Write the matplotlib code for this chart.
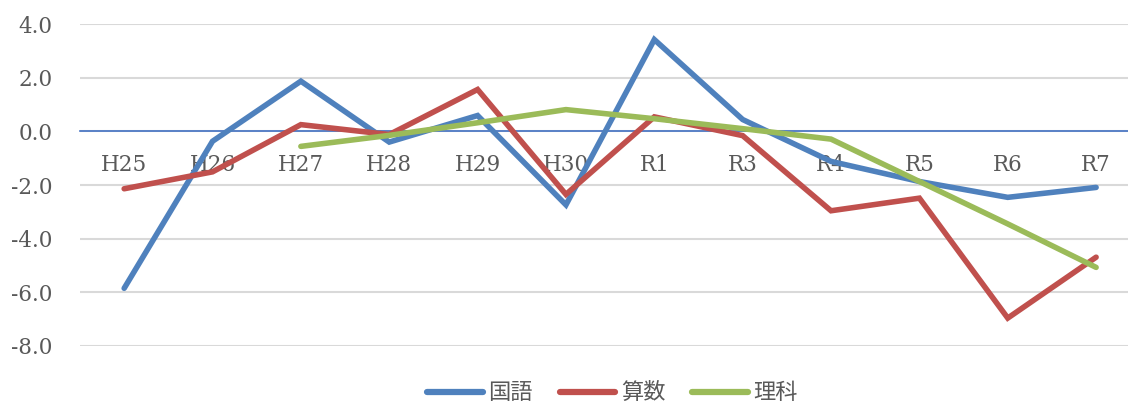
import matplotlib.pyplot as plt
import numpy as np

# Data
years = ['H25', 'H26', 'H27', 'H28', 'H29', 'H30', 'R1', 'R3', 'R4', 'R5', 'R6', 'R7']
kokugo = [-5.85, -0.37, 1.87, -0.4, 0.59, -2.74, 3.42, 0.44, -1.12, -1.87, -2.46, -2.09]
sansu = [-2.14, -1.51, 0.25, -0.12, 1.56, -2.35, 0.54, -0.16, -2.96, -2.49, -6.96, -4.69]
rika = [np.nan, np.nan, -0.56, -0.15, 0.32, 0.81, 0.47, 0.1, -0.29, -1.87, -3.45, -5.07]

series_names = ['国語', '算数', '理科']
colors = ['#4F81BD', '#C0504D', '#9BBB59']

fig = plt.figure(figsize=(11.28, 4.05), dpi=100)
# plot area runs slightly past the right edge of the figure, as in the original
ax = fig.add_axes([0.0709, 0.1457, 0.94, 0.795])

x = np.arange(len(years))
for vals, name, c in zip([kokugo, sansu, rika], series_names, colors):
    ax.plot(x, vals, color=c, linewidth=4, solid_capstyle='round',
            solid_joinstyle='miter', label=name, zorder=3)

ax.set_xlim(-0.5, len(years) - 0.5)
ax.set_ylim(-8, 4)
ax.set_yticks(np.arange(-8, 4.1, 2))
ax.set_yticklabels([f'{v:.1f}' for v in np.arange(-8, 4.1, 2)])
ax.grid(axis='y', color='#D9D9D9', linewidth=1.5, zorder=0)

for s in ['top', 'right', 'left']:
    ax.spines[s].set_visible(False)
ax.spines['bottom'].set_position(('data', 0))
ax.spines['bottom'].set_color('#4472C4')
ax.spines['bottom'].set_linewidth(1.2)
ax.spines['bottom'].set_zorder(2)

ax.set_xticks(x)
ax.set_xticklabels(years)
ax.tick_params(axis='x', length=0, pad=16, labelsize=15.5, labelcolor='#595959')
ax.tick_params(axis='y', length=0, pad=20, labelsize=15.5, labelcolor='#595959')
for lbl in ax.get_xticklabels() + ax.get_yticklabels():
    lbl.set_family('DejaVu Serif')

leg = fig.legend(loc='center', bbox_to_anchor=(0.543, 0.03), ncol=3, frameon=False,
                 handlelength=2.5, handletextpad=0.25, columnspacing=1.2,
                 prop={'family': ['Noto Sans CJK JP', 'DejaVu Sans'], 'size': 16})
for t in leg.get_texts():
    t.set_color('#595959')
for h in leg.get_lines():
    h.set_linewidth(4.5)

fig.savefig('out.png', dpi=100)
